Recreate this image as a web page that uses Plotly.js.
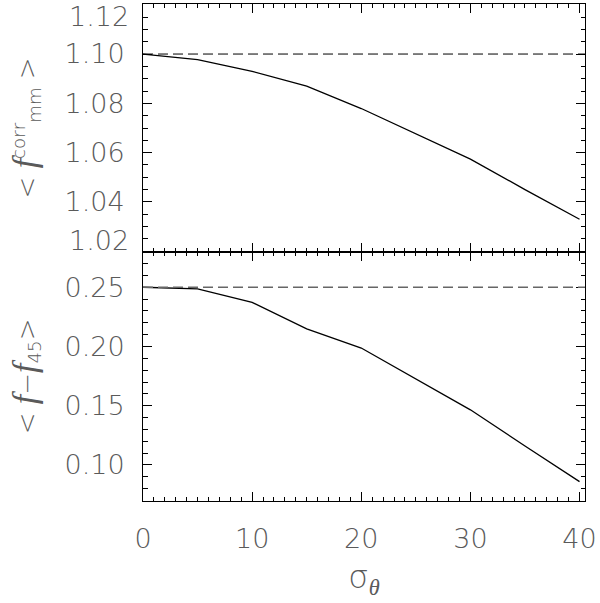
<!DOCTYPE html>
<html>
<head>
<meta charset="utf-8">
<script src="https://cdn.plot.ly/plotly-3.0.1.min.js"></script>
<style>html,body{margin:0;padding:0;background:#fff;}#plot{width:600px;height:603px;}</style>
</head>
<body>
<div id="plot"></div>
<script>
// ---- data ----
var sigmaTheta = [0, 5, 10, 15, 20, 25, 30, 35, 40];
var fmmCorr   = [1.100, 1.0977, 1.0930, 1.0870, 1.0779, 1.0678, 1.0574, 1.0450, 1.0330];
var fMinusF45 = [0.250, 0.2486, 0.2373, 0.2148, 0.1987, 0.1725, 0.1465, 0.1160, 0.0859];
var refTop = 1.10;
var refBottom = 0.25;
var topTickVals = [1.02, 1.04, 1.06, 1.08, 1.10, 1.12];
var topTickText = ["1.02", "1.04", "1.06", "1.08", "1.10", "1.12"];
var botTickVals = [0.10, 0.15, 0.20, 0.25];
var botTickText = ["0.10", "0.15", "0.20", "0.25"];
var xTickVals = [0, 10, 20, 30, 40];
var xTickText = ["0", "10", "20", "30", "40"];

var FONT = "'DejaVu Sans', sans-serif";
var TXT = "#5a5a5a";
var W = 200;
var TS = 27;
var IT = function (s, size) {
  return '<span style="font-family:\'Liberation Serif\',\'DejaVu Serif\',serif;font-style:italic;font-weight:normal;' +
    (size ? 'font-size:' + size + 'px;' : '') + '">' + s + '</span>';
};

var traces = [
  {x: sigmaTheta, y: fmmCorr, xaxis: 'x2', yaxis: 'y2', mode: 'lines',
   line: {color: '#000', width: 1.3}, hoverinfo: 'none'},
  {x: sigmaTheta, y: fMinusF45, xaxis: 'x', yaxis: 'y', mode: 'lines',
   line: {color: '#000', width: 1.3}, hoverinfo: 'none'}
];

function xaxisBase(showLabels) {
  return {
    range: [0, 40.5], showgrid: false, zeroline: false,
    showline: true, linecolor: '#000', linewidth: 1, mirror: 'allticks',
    ticks: 'inside', ticklen: 9, tickwidth: 1, tickcolor: '#000',
    tickvals: xTickVals, ticktext: xTickText, showticklabels: showLabels,
    tickfont: {family: FONT, size: TS, color: TXT, weight: W},
    ticklabelstandoff: 14,
    minor: {ticks: 'inside', dtick: 1, ticklen: 4, tickwidth: 1, tickcolor: '#000', showgrid: false}
  };
}

var xa = xaxisBase(true);
xa.anchor = 'y';
xa.title = {text: "σ<sub>" + IT("θ") + "</sub>", font: {family: FONT, size: 32, color: TXT, weight: W}, standoff: 12};
var xa2 = xaxisBase(false);
xa2.anchor = 'y2';
xa2.matches = 'x';

var ya2 = {
  domain: [0.5015, 1], anchor: 'x2', range: [1.0198, 1.1203],
  showgrid: false, zeroline: false, showline: true, linecolor: '#000', linewidth: 1, mirror: 'allticks',
  ticks: 'inside', ticklen: 9, tickwidth: 1, tickcolor: '#000',
  tickvals: topTickVals, ticktext: ["", "1.04", "1.06", "1.08", "1.10", ""],
  tickfont: {family: FONT, size: TS, color: TXT, weight: W}, ticklabelstandoff: 12,
  minor: {ticks: 'inside', dtick: 0.005, ticklen: 4.5, tickwidth: 1, tickcolor: '#000', showgrid: false},
  title: {text: "< " + IT("f", 34) + "<sup>corr</sup><sub>mm</sub> >", font: {family: FONT, size: 26, color: TXT, weight: W}, standoff: 20}
};
var ya = {
  domain: [0, 0.5015], anchor: 'x', range: [0.0695, 0.2800],
  showgrid: false, zeroline: false, showline: true, linecolor: '#000', linewidth: 1, mirror: 'allticks',
  ticks: 'inside', ticklen: 9, tickwidth: 1, tickcolor: '#000',
  tickvals: botTickVals, ticktext: botTickText,
  tickfont: {family: FONT, size: TS, color: TXT, weight: W}, ticklabelstandoff: 12,
  minor: {ticks: 'inside', dtick: 0.01, ticklen: 4.5, tickwidth: 1, tickcolor: '#000', showgrid: false},
  title: {text: "< " + IT("f", 34) + "−" + IT("f", 34) + "<sub>45</sub>>", font: {family: FONT, size: 26, color: TXT, weight: W}, standoff: 20}
};

var layout = {
  width: 600, height: 603,
  margin: {l: 143.3, r: 15, t: 4, b: 102},
  paper_bgcolor: '#fff', plot_bgcolor: '#fff',
  showlegend: false,
  xaxis: xa, xaxis2: xa2, yaxis: ya, yaxis2: ya2,
  shapes: [
    {type: 'line', xref: 'x2 domain', yref: 'y2', x0: 0, x1: 1, y0: refTop, y1: refTop,
     line: {color: '#000', width: 1, dash: '10px,5px'}},
    {type: 'line', xref: 'x domain', yref: 'y', x0: 0, x1: 1, y0: refBottom, y1: refBottom,
     line: {color: '#666', width: 1.5, dash: '10px,5px'}}
  ],
  annotations: [
    {xref: 'paper', yref: 'y2', x: 0, y: topTickVals[5], xanchor: 'right', yanchor: 'middle',
     xshift: -12, yshift: -12, text: topTickText[5], showarrow: false,
     font: {family: FONT, size: TS, color: TXT, weight: W}},
    {xref: 'paper', yref: 'y2', x: 0, y: topTickVals[0], xanchor: 'right', yanchor: 'middle',
     xshift: -12, yshift: 11, text: topTickText[0], showarrow: false,
     font: {family: FONT, size: TS, color: TXT, weight: W}}
  ]
};

Plotly.newPlot('plot', traces, layout, {staticPlot: true, displayModeBar: false});
</script>
</body>
</html>
